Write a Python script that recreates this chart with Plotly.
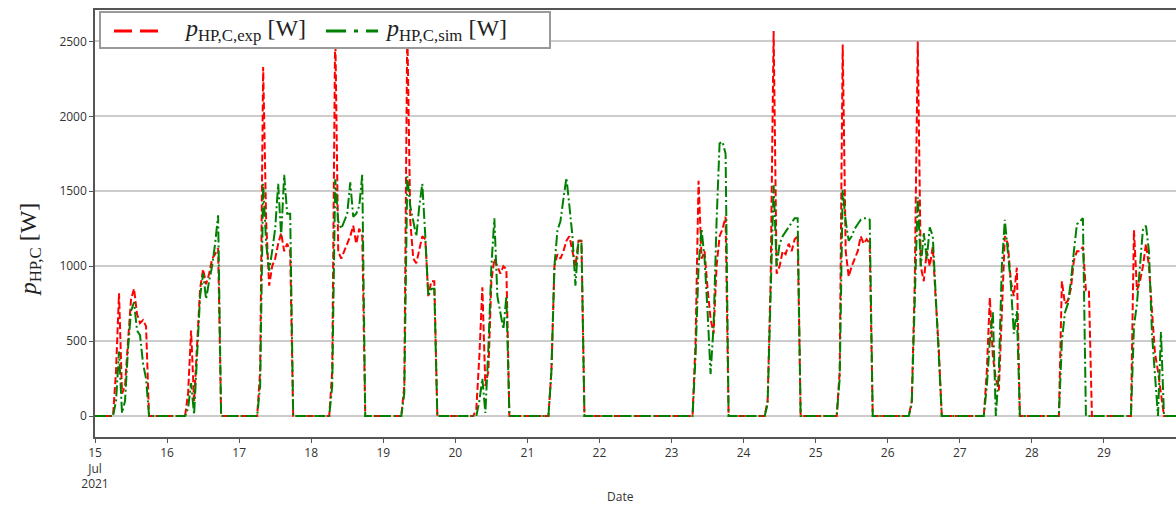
import pandas as pd
import numpy as np
import plotly.graph_objects as go

# ---------------- data (hourly, W) ----------------
# Each day: first hour of the listed values, then experimental and simulated values
start_15, exp_15 = 6, [0, 300, 820, 150, 200, 500, 780, 850, 680, 620, 640, 600, 0]
sim_15 = [0, 100, 430, 20, 100, 450, 700, 760, 570, 540, 350, 250, 0]

start_16, exp_16 = 6, [0, 150, 570, 100, 500, 850, 980, 880, 950, 1050, 1080, 1120, 0]
sim_16 = [0, 50, 220, 10, 400, 800, 950, 780, 900, 1000, 1150, 1340, 0]

start_17, exp_17 = 6, [0, 300, 2330, 1300, 870, 1000, 1050, 1150, 1220, 1100, 1150, 1100, 0]
sim_17 = [0, 200, 1550, 1150, 970, 1100, 1250, 1550, 1200, 1610, 1350, 1350, 0]

start_18, exp_18 = 6, [0, 300, 2600, 1100, 1050, 1100, 1150, 1200, 1270, 1150, 1250, 1200, 0]
sim_18 = [0, 200, 1580, 1300, 1250, 1300, 1350, 1560, 1330, 1350, 1400, 1610, 0]

start_19, exp_19 = 6, [0, 200, 2600, 1300, 1050, 1020, 1100, 1200, 1180, 800, 900, 900, 0]
sim_19 = [0, 150, 1600, 1400, 1300, 1200, 1400, 1550, 1200, 800, 850, 850, 0]

start_20, exp_20 = 6, [0, 50, 400, 860, 200, 300, 900, 1050, 1000, 950, 1000, 980, 0]
sim_20 = [0, 0, 100, 250, 20, 450, 1000, 1320, 800, 700, 580, 800, 0]

start_21, exp_21 = 7, [0, 300, 1000, 1080, 1050, 1100, 1170, 1200, 1100, 1000, 1170, 1170, 0]
sim_21 = [0, 300, 1000, 1240, 1300, 1450, 1590, 1400, 1200, 870, 1170, 1170, 0]

start_23, exp_23 = 7, [0, 500, 1570, 1050, 1100, 850, 650, 550, 1000, 1200, 1250, 1330, 0]
sim_23 = [0, 400, 1000, 1250, 1050, 700, 280, 600, 1300, 1820, 1830, 1750, 0]

start_24, exp_24 = 7, [0, 100, 900, 2570, 950, 1000, 1100, 1080, 1150, 1100, 1180, 1200, 0]
sim_24 = [0, 80, 800, 1540, 1000, 1150, 1200, 1230, 1260, 1290, 1320, 1320, 0]

start_25, exp_25 = 7, [0, 300, 2480, 1100, 930, 1000, 1050, 1100, 1200, 1150, 1180, 1150, 0]
sim_25 = [0, 250, 1510, 1300, 1170, 1200, 1250, 1280, 1310, 1320, 1320, 1310, 0]

start_26, exp_26 = 7, [0, 100, 900, 2500, 1000, 900, 1100, 1000, 1130, 770, 450, 0]
sim_26 = [0, 80, 700, 1460, 1000, 1220, 1050, 1260, 1200, 800, 430, 0]

start_27, exp_27 = 8, [0, 300, 790, 400, 250, 170, 700, 1200, 1150, 900, 800, 990, 0]
sim_27 = [0, 200, 500, 700, 0, 300, 1000, 1310, 1100, 880, 550, 700, 0]

start_28, exp_28 = 9, [0, 900, 750, 770, 850, 1040, 1100, 1100, 1130, 840, 840, 0]
sim_28 = [0, 500, 690, 750, 900, 1100, 1280, 1300, 1320, 0, 0, 0]

start_29, exp_29 = 9, [0, 1240, 840, 900, 1000, 1150, 1000, 700, 420, 300, 150, 0]
sim_29 = [0, 600, 750, 1000, 1250, 1270, 1100, 550, 300, 0, 560, 0]

days = [15, 16, 17, 18, 19, 20, 21, 23, 24, 25, 26, 27, 28, 29]
g = globals()

tick_days = list(range(15, 30))
tick_text = ["15<br>Jul<br>2021"] + [str(d) for d in tick_days[1:]]

exp_name = "<i>p</i><sub>HP,C,exp</sub> [W]"
sim_name = "<i>p</i><sub>HP,C,sim</sub> [W]"

# ---------------- build series ----------------
times = pd.date_range("2021-07-15 00:00", "2021-07-30 00:00", freq="h")
exp_vals = pd.Series(0.0, index=times)
sim_vals = pd.Series(0.0, index=times)
for d in days:
    h0 = g[f"start_{d}"]
    t0 = pd.Timestamp(2021, 7, d, h0)
    for i, (e, s) in enumerate(zip(g[f"exp_{d}"], g[f"sim_{d}"])):
        t = t0 + pd.Timedelta(hours=i)
        exp_vals[t] = e
        sim_vals[t] = s

RED = "#ff0000"
GREEN = "#008000"

# ---------------- figure ----------------
fig = go.Figure()
fig.add_trace(go.Scatter(
    x=times, y=exp_vals.values, mode="lines", name=exp_name,
    line=dict(color=RED, width=2, dash="7px,3px"), showlegend=False,
))
fig.add_trace(go.Scatter(
    x=times, y=sim_vals.values, mode="lines", name=sim_name,
    line=dict(color=GREEN, width=2, dash="11px,3px,2px,3px"), showlegend=False,
))

fig.update_layout(
    width=1176, height=508,
    margin=dict(l=95, r=0, t=10, b=71),
    plot_bgcolor="white", paper_bgcolor="white",
    font=dict(family="Open Sans, Noto Sans, sans-serif", size=12, color="#333"),
)

fig.update_xaxes(
    type="date",
    range=["2021-07-15 00:00", "2021-07-30 00:00"],
    tickvals=[pd.Timestamp(2021, 7, d) for d in tick_days],
    ticktext=tick_text,
    showgrid=False, zeroline=False,
    showline=True, linecolor="#555", linewidth=1.5, mirror=True,
    ticks="outside", ticklen=4, tickcolor="#555",
    tickfont=dict(size=12, color="#333"),
)
fig.update_yaxes(
    range=[-140, 2710],
    tickvals=[0, 500, 1000, 1500, 2000, 2500],
    showgrid=True, gridcolor="#cccccc", gridwidth=1.5,
    zeroline=False,
    showline=True, linecolor="#555", linewidth=1.5,
    ticks="outside", ticklen=4, tickcolor="#555",
    tickfont=dict(size=12, color="#333"),
)

# ---- legend box (drawn in paper coordinates of the plot area) ----
W, H, L, T = 1081.0, 427.0, 95.0, 10.0
def px(xp):
    return (xp - L) / W
def py(yp):
    return (T + H - yp) / H

fig.add_shape(type="rect", xref="paper", yref="paper",
              x0=px(100), x1=px(550), y0=py(48), y1=py(12),
              fillcolor="white", line=dict(color="#9a9a9a", width=2), layer="above")
fig.add_shape(type="line", xref="paper", yref="paper",
              x0=px(114), x1=px(158), y0=py(31), y1=py(31),
              line=dict(color=RED, width=3, dash="18px,8px"), layer="above")
fig.add_shape(type="line", xref="paper", yref="paper",
              x0=px(326), x1=px(378), y0=py(31), y1=py(31),
              line=dict(color=GREEN, width=3, dash="20px,8px,4px,8px"), layer="above")
fig.add_annotation(text=exp_name, xref="paper", yref="paper",
                   x=px(182), y=py(30), xanchor="left", yanchor="middle",
                   showarrow=False,
                   font=dict(family="Liberation Serif, DejaVu Serif, serif", size=24, color="#222"))
fig.add_annotation(text=sim_name, xref="paper", yref="paper",
                   x=px(383), y=py(30), xanchor="left", yanchor="middle",
                   showarrow=False,
                   font=dict(family="Liberation Serif, DejaVu Serif, serif", size=24, color="#222"))

# ---- axis titles ----
fig.add_annotation(
    text="<i>p</i><sub>HP,C</sub> [W]", textangle=-90,
    xref="paper", yref="paper", x=-0.06, y=0.44,
    xanchor="center", yanchor="middle", showarrow=False,
    font=dict(family="Liberation Serif, DejaVu Serif, serif", size=24, color="#222"),
)
fig.add_annotation(
    text="Date", xref="paper", yref="paper", x=0.486, y=-0.14,
    xanchor="center", yanchor="middle", showarrow=False,
    font=dict(size=12, color="#333"),
)

fig.write_html("out.html")
